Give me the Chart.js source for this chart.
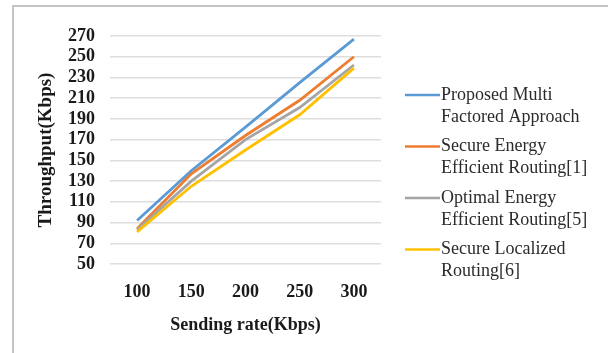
<!DOCTYPE html>
<html>
<head>
<meta charset="utf-8">
<script src="https://cdn.jsdelivr.net/npm/chart.js@4"></script>
<style>
  body { margin: 0; background: #fff; }
  #wrap { position: relative; width: 608px; height: 353px; }
  #frame { position: absolute; left: 12px; top: 5px; right: -4px; bottom: -4px;
           border-left: 2px solid #c3c3c3; border-top: 2px solid #c3c3c3; }
  #mycanvas { position: absolute; left: 0; top: 0; }
</style>
</head>
<body>
<div id="wrap">
  <div id="frame"></div>
  <canvas id="mycanvas" width="608" height="353"></canvas>
</div>
<script>
var sendingRate = ['100', '150', '200', '250', '300'];
var proposed = [92, 140, 182, 225, 267];
var secureEnergy = [84, 137, 174, 208, 250];
var optimalEnergy = [83, 130, 170, 201, 242];
var secureLocalized = [81, 125, 160, 194, 239];

var seriesNames = [
  ['Proposed Multi', 'Factored Approach'],
  ['Secure Energy', 'Efficient Routing[1]'],
  ['Optimal Energy', 'Efficient Routing[5]'],
  ['Secure Localized', 'Routing[6]']
];
var colors = ['#5B9BD5', '#ED7D31', '#A5A5A5', '#FFC000'];
var serif = "'Liberation Serif', 'Times New Roman', serif";

// legend on the right, drawn on the canvas (two-line labels)
var sideLegend = {
  id: 'sideLegend',
  afterDraw: function(chart) {
    var ctx = chart.ctx;
    ctx.save();
    ctx.font = '18px ' + serif;
    ctx.textBaseline = 'middle';
    ctx.fillStyle = '#2b2b2b';
    chart.data.datasets.forEach(function(ds, i) {
      var y = 95 + i * 51.5;
      ctx.strokeStyle = ds.borderColor;
      ctx.lineWidth = 2.5;
      ctx.beginPath();
      ctx.moveTo(405, y);
      ctx.lineTo(440, y);
      ctx.stroke();
      seriesNames[i].forEach(function(t, k) {
        ctx.fillText(t, 441, y + k * 22);
      });
    });
    ctx.restore();
  }
};

var datasets = [proposed, secureEnergy, optimalEnergy, secureLocalized].map(function(d, i) {
  return {
    label: seriesNames[i].join(' '),
    data: d,
    borderColor: colors[i],
    backgroundColor: colors[i],
    borderWidth: 2.8,
    pointRadius: 0,
    tension: 0,
    order: 3 - i
  };
});

new Chart(document.getElementById('mycanvas'), {
  type: 'line',
  data: { labels: sendingRate, datasets: datasets },
  options: {
    responsive: false,
    animation: false,
    layout: { padding: { left: 0, right: 227, top: 36, bottom: 0 } },
    plugins: { legend: { display: false }, tooltip: { enabled: false } },
    scales: {
      x: {
        offset: true,
        grid: { display: false, drawTicks: false },
        border: { display: false },
        ticks: { color: '#1a1a1a', padding: 18, font: { family: serif, size: 18, weight: 'bold' } },
        title: { display: true, text: 'Sending rate(Kbps)', color: '#1a1a1a',
                 padding: { top: 0, bottom: 17 },
                 font: { family: serif, size: 18, weight: 'bold' } },
        afterFit: function(s) { s.height = 89; }
      },
      y: {
        min: 50, max: 270,
        ticks: { stepSize: 20, autoSkip: false, color: '#1a1a1a', padding: 15,
                 font: { family: serif, size: 18, weight: 'bold' } },
        grid: { color: '#dedede', lineWidth: 1.5, drawTicks: false },
        border: { display: false },
        title: { display: true, text: 'Throughput(Kbps)', color: '#1a1a1a',
                 padding: { top: 35, bottom: 0 },
                 font: { family: serif, size: 19, weight: 'bold' } },
        afterFit: function(s) { s.width = 110; }
      }
    }
  },
  plugins: [sideLegend]
});
</script>
</body>
</html>
